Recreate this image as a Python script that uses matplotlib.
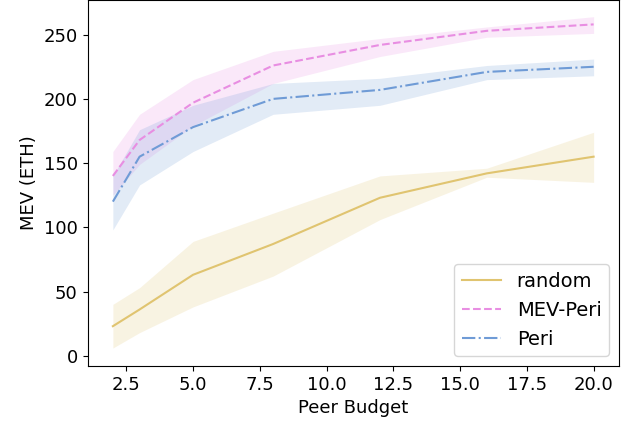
import numpy as np
from matplotlib import pyplot as plt

# peer budget on x, MEV in ETH on y
budget = [2, 3, 5, 8, 12, 16, 20]

random_mean = [23, 36, 63, 87, 123, 142, 155]
random_lo = [6, 18, 38, 62, 106, 139, 135]
random_hi = [40, 53, 89, 111, 140, 146, 174]

mevperi_mean = [140, 168, 197, 226, 242, 253, 258]
mevperi_lo = [125, 149, 179, 212, 233, 248, 251]
mevperi_hi = [159, 188, 215, 237, 247, 256, 264]

peri_mean = [120, 155, 178, 200, 207, 221, 225]
peri_lo = [98, 133, 159, 188, 195, 215, 218]
peri_hi = [140, 176, 195, 212, 216, 226, 231]

labels = ["random", "MEV-Peri", "Peri"]
colors = ["#e0c470", "#e88ee2", "#6f9bd6"]
styles = ["-", "--", "-."]

fig = plt.figure(figsize=(6.39, 4.21), dpi=100)
ax = fig.add_axes([87.5 / 639, 55 / 421, 531.5 / 639, 366 / 421])

series = [(random_mean, random_lo, random_hi),
          (mevperi_mean, mevperi_lo, mevperi_hi),
          (peri_mean, peri_lo, peri_hi)]

for (m, lo, hi), lab, c, ls in zip(series, labels, colors, styles):
    ax.plot(budget, m, color=c, linestyle=ls, linewidth=1.5, label=lab)
    ax.fill_between(budget, lo, hi, color=c, alpha=0.2, linewidth=0)

ax.set_xlim(1.05, 20.95)
ax.set_ylim(-8, 277)
ax.set_xticks([2.5, 5.0, 7.5, 10.0, 12.5, 15.0, 17.5, 20.0])
ax.set_yticks([0, 50, 100, 150, 200, 250])
ax.tick_params(labelsize=13)
ax.set_xlabel("Peer Budget", fontsize=13)
ax.set_ylabel("MEV (ETH)", fontsize=13)
ax.legend(loc="lower right", fontsize=14)

fig.savefig("out.png", dpi=100)
